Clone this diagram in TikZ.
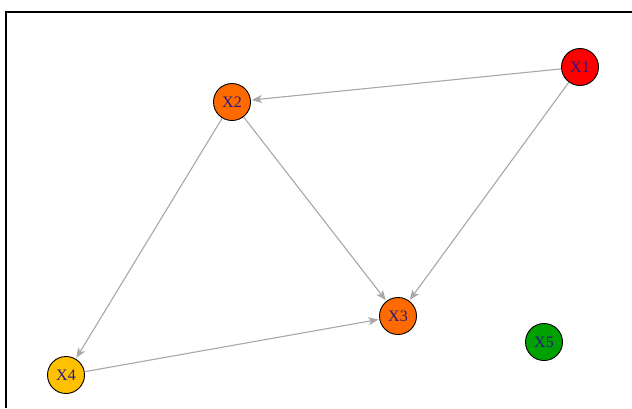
\documentclass[tikz,border=0pt]{standalone}
\usepackage{fontspec}
\setmainfont{Liberation Serif}
\usetikzlibrary{arrows.meta}
\definecolor{edgegray}{HTML}{A8A8A8}
\definecolor{nred}{HTML}{FF0000}
\definecolor{norange}{HTML}{FF6A00}
\definecolor{ngold}{HTML}{FFC000}
\definecolor{ngreen}{HTML}{00A000}
\definecolor{labcol}{HTML}{2A1A7A}
\tikzset{
  vnode/.style={circle, draw=black, line width=0.9pt, minimum size=37pt, inner sep=0pt,
    font=\fontsize{16}{16}\selectfont, text=labcol},
  edge/.style={draw=edgegray, line width=1.1pt, -{Stealth[length=10pt,width=8pt,inset=2.5pt]}, shorten >=1pt},
  frame/.style={line width=1.8pt, black}
}
\begin{document}
\begin{tikzpicture}[x=1pt,y=-1pt]
\useasboundingbox (0,0) rectangle (632,408);
\fill[white] (0,0) rectangle (632,408);
\coordinate (fl) at (6,408);
\coordinate (fc) at (6,12);
\coordinate (fr) at (632,12);
\draw[frame] (fl) -- (fc) -- (fr);
\node[vnode, fill=nred] (x1) at (580,67) {X1};
\node[vnode, fill=norange] (x2) at (232,102) {X2};
\node[vnode, fill=norange] (x3) at (398,316) {X3};
\node[vnode, fill=ngold] (x4) at (66,375) {X4};
\node[vnode, fill=ngreen] (x5) at (544,342) {X5};
\draw[edge] (x1) -- (x2);
\draw[edge] (x1) -- (x3);
\draw[edge] (x2) -- (x3);
\draw[edge] (x2) -- (x4);
\draw[edge] (x4) -- (x3);
\end{tikzpicture}
\end{document}
